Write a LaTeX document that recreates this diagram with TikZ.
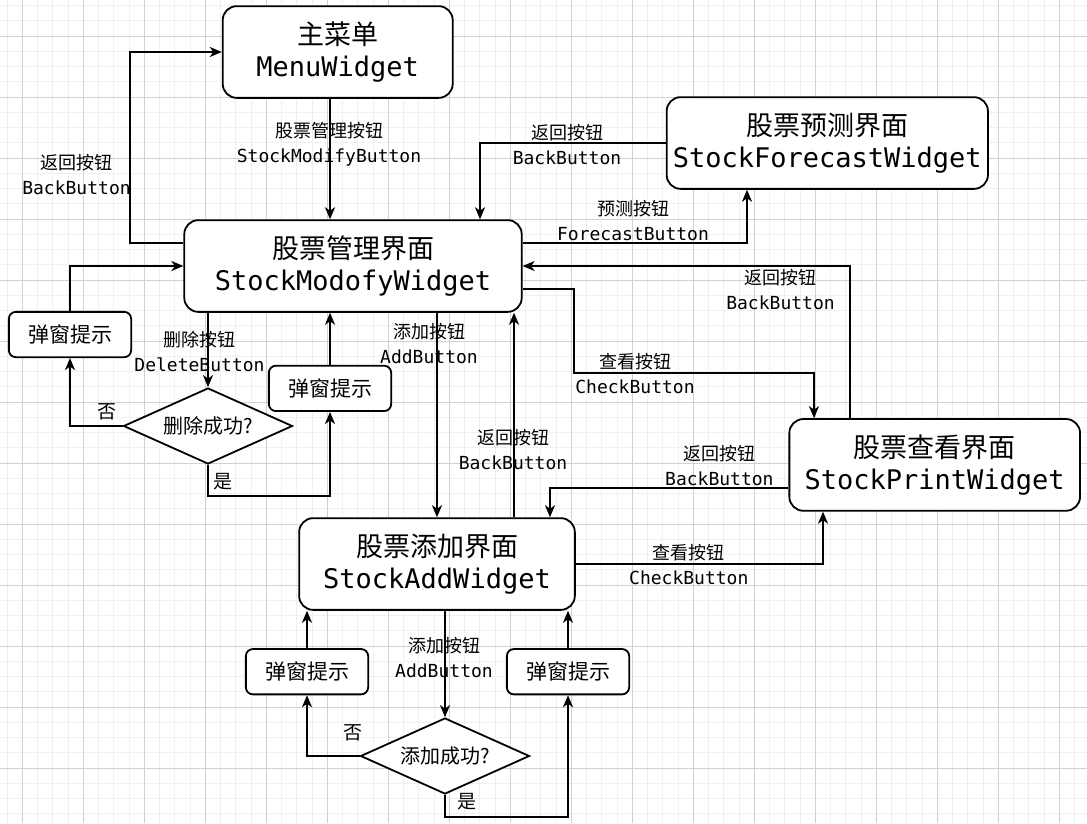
\documentclass[tikz,border=0pt]{standalone}
\usepackage{fontspec}
\setmainfont{Noto Sans CJK SC}
\setmonofont{DejaVu Sans Mono}
\usetikzlibrary{arrows.meta,shapes.geometric}
\tikzset{>={Stealth[length=12pt,width=10pt,inset=3.5pt]}}
\tikzset{
  widget/.style={draw=black,line width=1.8pt,rounded corners=14pt,fill=white,align=center,inner sep=0pt,minimum height=91.7pt,font=\fontsize{27}{32}\selectfont},
  popup/.style={draw=black,line width=1.8pt,rounded corners=7pt,fill=white,inner sep=0pt,minimum width=122.3pt,minimum height=45.3pt,font=\fontsize{21}{25}\selectfont},
  decide/.style={diamond,aspect=2.2,draw=black,line width=1.8pt,fill=white,inner sep=0pt,minimum width=169pt,minimum height=76pt,font=\fontsize{20}{24}\selectfont},
  btn/.style={align=center,inner sep=0pt,font=\fontsize{18}{25}\selectfont},
  yesno/.style={inner sep=0pt,font=\fontsize{19}{22}\selectfont},
  link/.style={line width=2pt,->},
  minor/.style={draw=black!6,line width=0.8pt},
  major/.style={draw=black!18,line width=0.9pt}
}

\begin{document}
\begin{tikzpicture}[x=1pt,y=-1pt]
\def\gridW {1087}  % width of the sheet
\def\gridH {823}   % height of the sheet
\def\cell {15.25}  % small grid cell
\useasboundingbox (0,0) rectangle (\gridW,\gridH);
% grid:
 \fill[white] (0,0) rectangle (\gridW,\gridH);
 \foreach \i in {0,...,70} \draw[minor] ({7.05+\cell*\i},0) -- ({7.05+\cell*\i},\gridH);
 \foreach \j in {0,...,53} \draw[minor] (0,{5.5+\cell*\j}) -- (\gridW,{5.5+\cell*\j});
 \foreach \i in {0,...,17} \draw[major] ({22.3+4*\cell*\i},0) -- ({22.3+4*\cell*\i},\gridH);
 \foreach \j in {0,...,12} \draw[major] (0,{36+4*\cell*\j}) -- (\gridW,{36+4*\cell*\j});
% widgets:
 \node[widget,minimum width=230pt] (menu) at (337.7,52) {主菜单\\\texttt{MenuWidget}};
 \node[widget,minimum width=337.4pt] (modify) at (353,266) {股票管理界面\\\texttt{StockModofyWidget}};
 \node[widget,minimum width=321.3pt] (forecast) at (827.3,143) {股票预测界面\\\texttt{StockForecastWidget}};
 \node[widget,minimum width=290.7pt] (print) at (934.7,464.9) {股票查看界面\\\texttt{StockPrintWidget}};
 \node[widget,minimum width=275.7pt] (add) at (437,564) {股票添加界面\\\texttt{StockAddWidget}};
% popups and checks:
 \node[popup] (popTL) at (70,334.5) {弹窗提示};
 \node[popup] (popMid) at (330,388.4) {弹窗提示};
 \node[popup] (popBL) at (307,671.7) {弹窗提示};
 \node[popup] (popBR) at (568,671.7) {弹窗提示};
 \node[decide] (dDel) at (208,426) {删除成功?};
 \node[decide] (dAdd) at (445,756) {添加成功?};
% menu:
 \draw[link] (menu.south -| 330,0) -- (modify.north -| 330,0);
 \draw[link] (modify.west |- 0,243) -- ++(-53,0) |- (menu.west);
% forecast:
 \draw[link] (forecast.west) -| (modify.north -| 480,0);
 \draw[link] (modify.east |- 0,243) -| (forecast.south -| 747,0);
% print:
 \draw[link] (print.north -| 850,0) |- (modify.east);
 \draw[link] (modify.east |- 0,289) -| (574,373) -| (print.north -| 814,0);
% delete:
 \draw[link] (modify.south -| dDel.north) -- (dDel.north);
 \draw[link] (dDel.west) -| (popTL.south);
 \draw[link] (popTL.north) |- (modify.west);
 \draw[link] (dDel.south) -- ++(0,31) -| (popMid.south);
 \draw[link] (popMid.north) -- (modify.south -| popMid.north);
% add:
 \draw[link] (modify.south -| add.north) -- (add.north);
 \draw[link] (add.north -| 514,0) -- (modify.south -| 514,0);
 \draw[link] (print.west |- 0,488) -| (add.north -| 550,0);
 \draw[link] (add.east) -| (print.south -| 823,0);
 \draw[link] (add.south -| dAdd.north) -- (dAdd.north);
 \draw[link] (dAdd.west) -| (popBL.south);
 \draw[link] (popBL.north) -- (add.south -| popBL.north);
 \draw[link] (dAdd.south) -- ++(0,22) -| (popBR.south);
 \draw[link] (popBR.north) -- (add.south -| popBR.north);
% button labels:
 \node[btn] (lMod) at (329,144.2) {股票管理按钮\\\texttt{StockModifyButton}};
 \node[btn] (lBackMenu) at (76.5,175) {返回按钮\\\texttt{BackButton}};
 \node[btn] (lBackFc) at (567,144.2) {返回按钮\\\texttt{BackButton}};
 \node[btn] (lFc) at (633,220.8) {预测按钮\\\texttt{ForecastButton}};
 \node[btn] (lBackPr) at (780.5,290) {返回按钮\\\texttt{BackButton}};
 \node[btn] (lChk) at (635,374) {查看按钮\\\texttt{CheckButton}};
 \node[btn] (lDel) at (199.5,351) {删除按钮\\\texttt{DeleteButton}};
 \node[btn] (lAdd) at (429,343.2) {添加按钮\\\texttt{AddButton}};
 \node[btn] (lBackAdd) at (513,449.5) {返回按钮\\\texttt{BackButton}};
 \node[btn] (lBackPr2) at (719.4,465.2) {返回按钮\\\texttt{BackButton}};
 \node[btn] (lChk2) at (688.8,564.2) {查看按钮\\\texttt{CheckButton}};
 \node[btn] (lAdd2) at (444,657.4) {添加按钮\\\texttt{AddButton}};
 \node[yesno] (no1) at (107.3,412.3) {否};
 \node[yesno] (yes1) at (222.7,481.7) {是};
 \node[yesno] (no2) at (352.7,732.7) {否};
 \node[yesno] (yes2) at (467.3,801.7) {是};
\end{tikzpicture}
\end{document}
